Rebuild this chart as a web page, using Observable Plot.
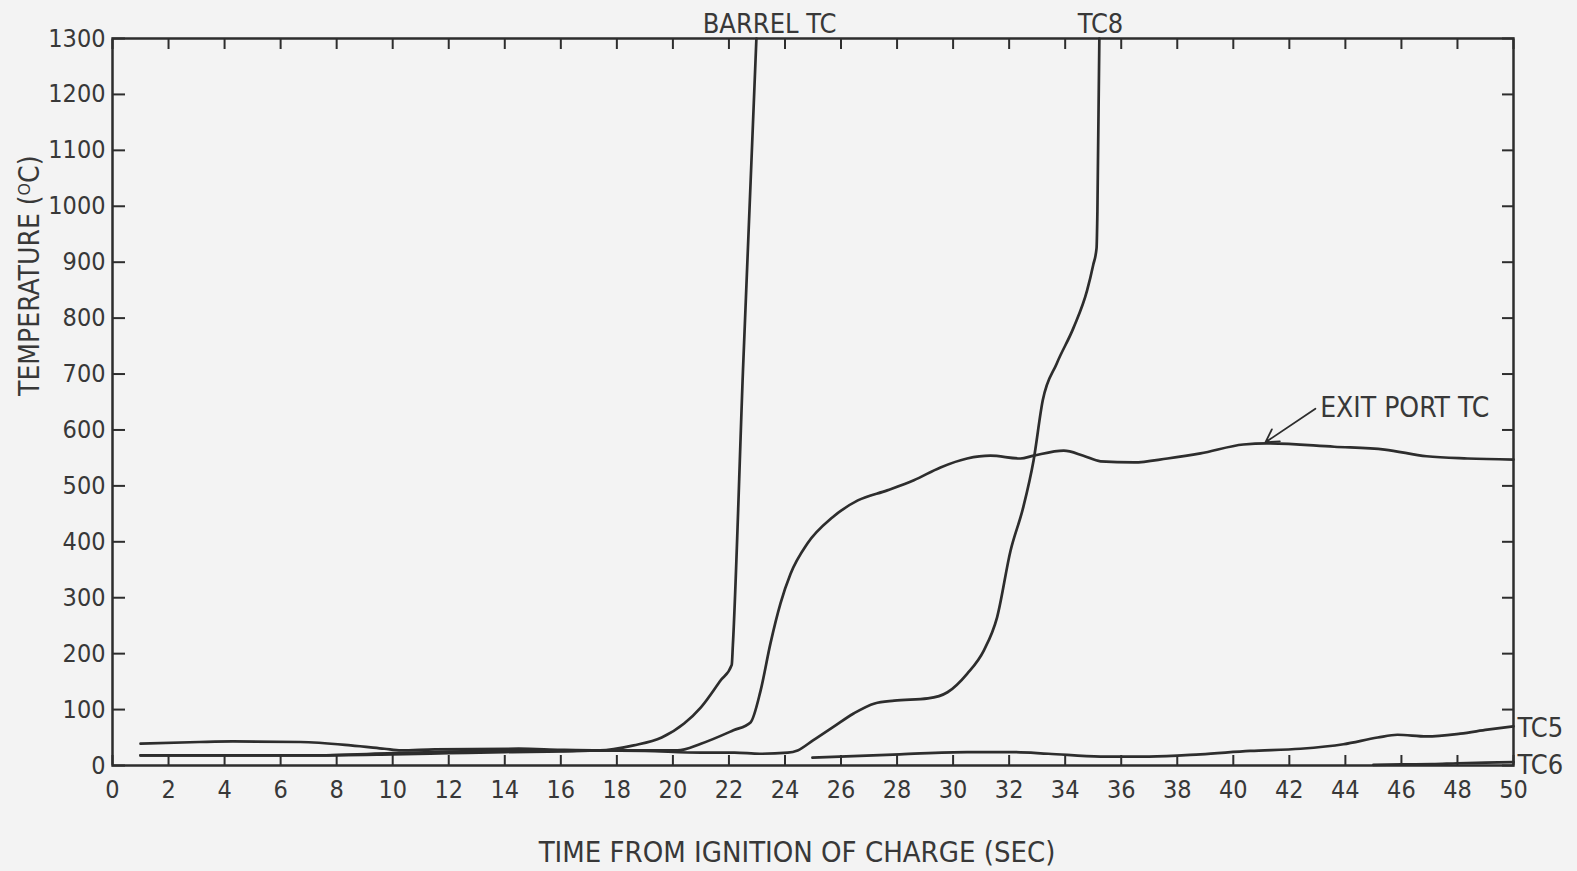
<!DOCTYPE html>
<html>
<head>
<meta charset="utf-8">
<script src="https://cdn.jsdelivr.net/npm/d3@7"></script>
<script src="https://cdn.jsdelivr.net/npm/@observablehq/plot@0.6"></script>
<style>
  html, body { margin: 0; padding: 0; background: #f3f3f3; }
  #chart svg { display: block; }
</style>
</head>
<body>
<div id="chart"></div>
<script>
// ---- data ----
const xTicks = d3.range(0, 51, 2);
const yTicks = d3.range(0, 1301, 100);

const barrelT = [1, 3.1, 4.3, 6.7, 8.5, 9.7, 10.3, 11.5, 14.5, 16, 17.4, 18.6, 19.6, 20.4, 21, 21.7, 22.1, 22.14, 22.5, 22.98];
const barrelV = [39, 42, 43, 42, 36, 30, 27, 29, 30, 28, 27, 36, 50, 75, 104, 152, 180, 215, 705, 1300];

const tc8T = [1, 4, 7, 10, 12, 14, 16, 17.4, 19, 21, 22.2, 23.1, 24.1, 24.45, 25, 25.7, 26.45, 27.2, 27.9, 29.1, 29.8, 30.5, 31.1, 31.57, 32.05, 32.5, 32.87, 33.2, 33.7, 34.3, 34.78, 35.0, 35.12, 35.15, 35.22];
const tc8V = [18, 18, 18, 20, 22, 24, 25, 27, 26, 23, 23, 21, 23, 27, 45, 68, 93, 111, 116, 120, 131, 164, 206, 265, 384, 461, 545, 653, 719, 783, 849, 895, 925, 990, 1300];

const exitT = [1, 4, 7, 10, 12, 14, 16, 18, 20.16, 21, 22.16, 22.77, 23.13, 23.48, 23.84, 24.2, 24.8, 25.7, 26.6, 27.65, 28.6, 29.55, 30.5, 31.33, 32.4, 32.87, 33.95, 34.65, 35.26, 36.45, 37.65, 38.83, 40.36, 41.2, 43.6, 45.4, 46.9, 48.36, 50];
const exitV = [18, 18, 18, 22, 25, 26, 26, 27, 27, 39, 63, 77, 134, 218, 290, 343, 397, 444, 474, 492, 510, 533, 549, 554, 549, 554, 563, 554, 544, 542, 549, 558, 574, 576, 570, 565, 553, 549, 547];

const tc5T = [24.98, 28.1, 30.5, 32.05, 33.4, 35.26, 37, 38.83, 40.6, 42.4, 43.93, 45.15, 45.86, 46.9, 48.1, 49.07, 50];
const tc5V = [14, 20, 24, 24, 21, 16, 16, 20, 26, 30, 38, 50, 55, 52, 57, 64, 70];

const tc6T = [45, 46, 47.1, 48, 49, 50];
const tc6V = [1, 2, 2.5, 4, 5, 6];

const seriesNames = ["BARREL TC", "TC8", "EXIT PORT TC", "TC5", "TC6"];

// annotations
const topLabels = [{name: "BARREL TC", x: 23.45}, {name: "TC8", x: 35.26}];
const rightLabels = [{name: "TC5", y: 66}, {name: "TC6", y: 0}];
const exitLabel = [{name: "EXIT PORT TC", x: 43.1, y: 640}];
const exitArrow = [{x1: 42.93, y1: 638, x2: 41.15, y2: 578}];

// ---- build table ----
const seriesData = [[barrelT, barrelV], [tc8T, tc8V], [exitT, exitV], [tc5T, tc5V], [tc6T, tc6V]];
const rows = seriesData.flatMap(([ts, vs], k) => ts.map((t, i) => ({series: seriesNames[k], t, v: vs[i]})));

const ink = "#2d2d2d";
const txt = "#383838";
const font = "'Liberation Sans Narrow', 'DejaVu Sans Condensed', 'Roboto Condensed', sans-serif";

const chart = Plot.plot({
  width: 1577,
  height: 871,
  marginLeft: 112,
  marginRight: 64,
  marginTop: 38,
  marginBottom: 106,
  x: {domain: [0, 50]},
  y: {domain: [0, 1300]},
  style: {fontFamily: font, fontSize: "25px", color: txt, background: "#f3f3f3", overflow: "visible"},
  marks: [
    Plot.frame({stroke: ink, strokeWidth: 2.5}),
    Plot.axisX(xTicks, {anchor: "bottom", tickSize: 0, tickPadding: 15, label: null, fill: txt, tickFormat: d => String(d)}),
    Plot.axisX(xTicks, {anchor: "bottom", tickSize: -10, text: null, tickFormat: () => "", label: null, stroke: ink, strokeWidth: 2}),
    Plot.axisX(xTicks, {anchor: "top", tickSize: -10, text: null, tickFormat: () => "", label: null, stroke: ink, strokeWidth: 2}),
    Plot.axisY(yTicks, {anchor: "left", tickSize: 0, tickPadding: 7, label: null, fill: txt, tickFormat: d => String(d)}),
    Plot.axisY(yTicks, {anchor: "left", tickSize: -13, text: null, tickFormat: () => "", label: null, stroke: ink, strokeWidth: 2}),
    Plot.axisY(yTicks, {anchor: "right", tickSize: -12, text: null, tickFormat: () => "", label: null, stroke: ink, strokeWidth: 2}),
    Plot.line(rows, {x: "t", y: "v", z: "series", curve: "monotone-x", stroke: ink, strokeWidth: 2.7}),
    Plot.text(topLabels, {x: "x", text: "name", frameAnchor: "top", lineAnchor: "middle", dy: -14, fill: txt, fontSize: 27}),
    Plot.text(rightLabels, {y: "y", text: "name", frameAnchor: "right", textAnchor: "start", dx: 4, fill: txt, fontSize: 27}),
    Plot.text(exitLabel, {x: "x", y: "y", text: "name", textAnchor: "start", fill: txt, fontSize: 28}),
    Plot.arrow(exitArrow, {x1: "x1", y1: "y1", x2: "x2", y2: "y2", stroke: ink, strokeWidth: 1.8, headLength: 12}),
    Plot.text(["TIME FROM IGNITION OF CHARGE (SEC)"], {frameAnchor: "bottom", lineAnchor: "middle", dy: 87, dx: -16, fill: txt, fontSize: 29}),
    Plot.text(["TEMPERATURE (\u1D3CC)"], {frameAnchor: "left", lineAnchor: "middle", rotate: -90, dx: -82, dy: -6, fill: txt, fontSize: 28})
  ]
});

document.getElementById("chart").appendChild(chart);
</script>
</body>
</html>
